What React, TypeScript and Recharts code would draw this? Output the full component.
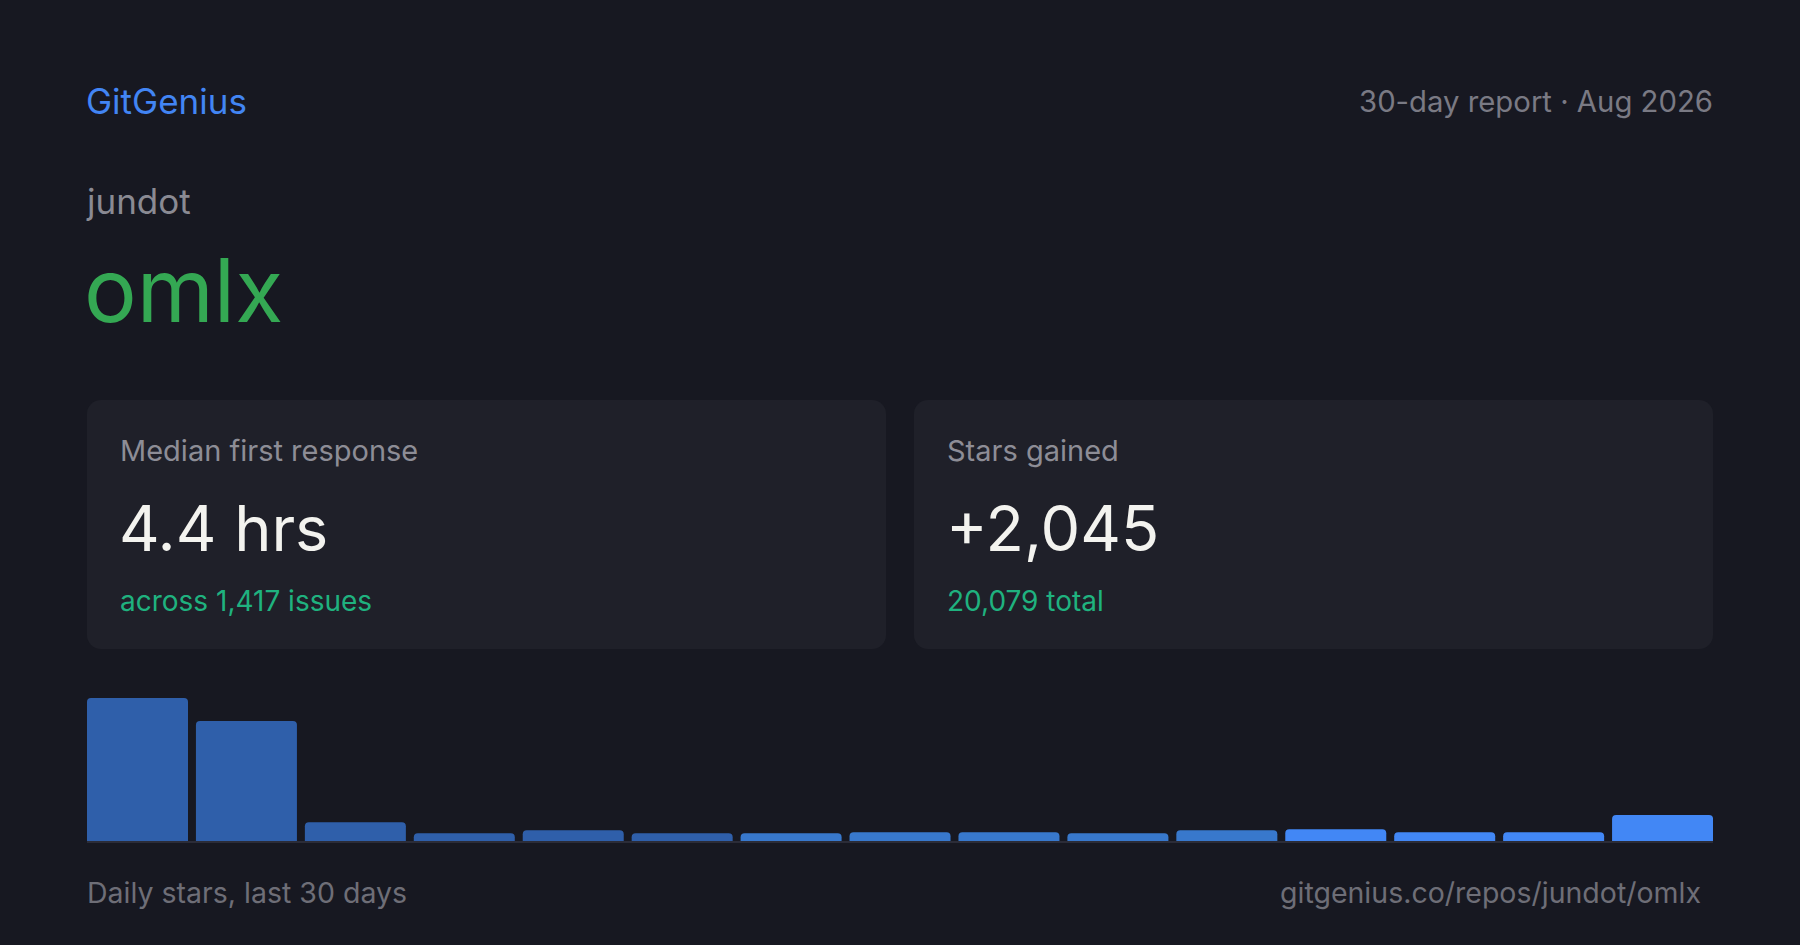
import React from "react";
import { BarChart, Bar, XAxis, YAxis, Cell } from "recharts";

// ---- data ----
const periods: string[] = [
  "P1", "P2", "P3", "P4", "P5", "P6", "P7", "P8",
  "P9", "P10", "P11", "P12", "P13", "P14", "P15",
];
const dailyStars: number[] = [699, 587, 96, 42, 57, 42, 42, 47, 47, 42, 57, 62, 47, 47, 131];

const brand = "GitGenius";
const reportLabel = "30-day report · Aug 2026";
const owner = "jundot";
const repo = "omlx";
const cardLabels: string[] = ["Median first response", "Stars gained"];
const cardValues: string[] = ["4.4 hrs", "+2,045"];
const cardSubs: string[] = ["across 1,417 issues", "20,079 total"];
const footerLeft = "Daily stars, last 30 days";
const footerRight = "gitgenius.co/repos/jundot/omlx";

const chartData = periods.map((p, i) => ({ period: p, stars: dailyStars[i] }));

const BG = "#171821";
const CARD = "#1f2029";
const FONT = "Inter, 'Noto Sans', sans-serif";

function barColor(i: number): string {
  if (i < 6) return "#2f5faa";
  if (i < 11) return "#3878cc";
  return "#4287f5";
}

export default function App() {
  const cardX = [87, 914];
  return (
    <div
      style={{
        position: "absolute",
        left: 0,
        top: 0,
        width: 1800,
        height: 945,
        background: BG,
        overflow: "hidden",
        fontFamily: FONT,
      }}
    >
      <svg
        width={1800}
        height={945}
        style={{ position: "absolute", left: 0, top: 0 }}
        fontFamily={FONT}
      >
        <text x={86} y={114} fontSize={35} fill="#4285f4">
          {brand}
        </text>
        <text x={1713} y={112} fontSize={29.3} fill="#7a7a84" textAnchor="end">
          {reportLabel}
        </text>
        <text x={87} y={214} fontSize={35} fill="#8a8a93">
          {owner}
        </text>
        <text x={84} y={322} fontSize={88} fill="#34a853">
          {repo}
        </text>
        {cardX.map((cx, i) => (
          <g key={i}>
            <rect x={cx} y={400} width={799} height={249} rx={14} ry={14} fill={CARD} />
            <text x={cx + 33} y={461} fontSize={29} fill="#8d8d96">
              {cardLabels[i]}
            </text>
            <text x={cx + 32} y={551} fontSize={63} fill="#f3f3ef">
              {cardValues[i]}
            </text>
            <text x={cx + 33} y={611} fontSize={28} fill="#1fb27f">
              {cardSubs[i]}
            </text>
          </g>
        ))}
        <text x={87} y={903} fontSize={28.5} fill="#6e6e77">
          {footerLeft}
        </text>
        <text x={1701} y={903} fontSize={28.5} fill="#6e6e77" textAnchor="end">
          {footerRight}
        </text>
      </svg>
      <div style={{ position: "absolute", left: 87, top: 690, width: 1626, height: 160 }}>
        <BarChart
          width={1626}
          height={160}
          data={chartData}
          margin={{ top: 8, right: -4, bottom: 0, left: -4 }}
          barCategoryGap={4}
        >
          <XAxis
            dataKey="period"
            height={8}
            tick={false}
            tickLine={false}
            axisLine={{ stroke: "#2b2c38", strokeWidth: 2 }}
          />
          <YAxis hide domain={[0, "dataMax"]} />
          <Bar dataKey="stars" radius={[4, 4, 0, 0]} isAnimationActive={false}>
            {chartData.map((_, i) => (
              <Cell key={i} fill={barColor(i)} />
            ))}
          </Bar>
        </BarChart>
      </div>
    </div>
  );
}
